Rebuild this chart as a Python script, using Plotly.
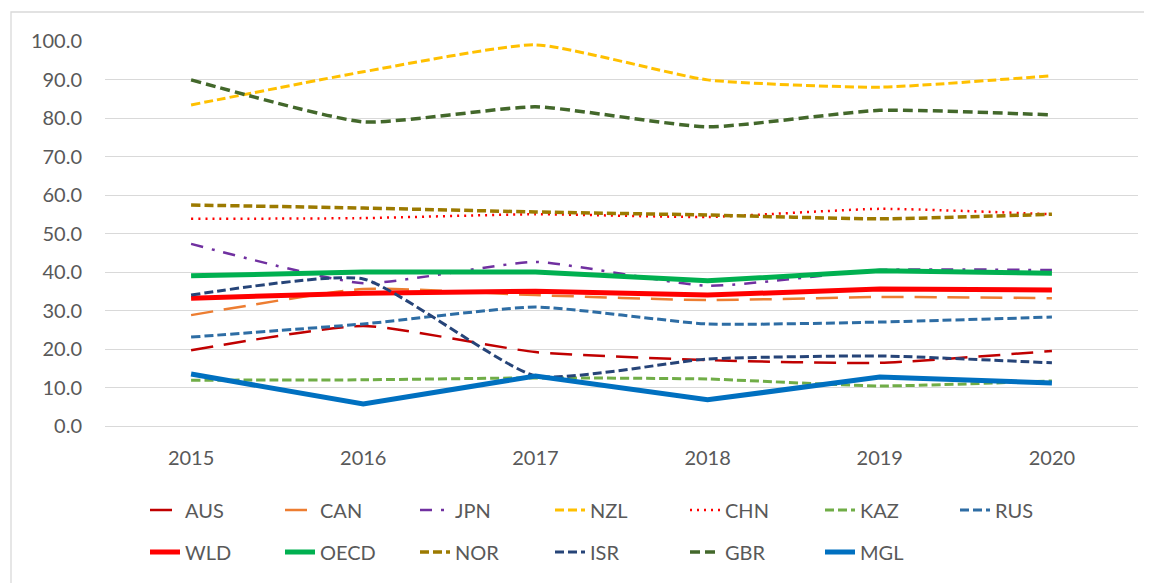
import plotly.graph_objects as go

years = ["2015", "2016", "2017", "2018", "2019", "2020"]

AUS = [19.7, 26.0, 19.2, 17.1, 16.4, 19.5]
CAN = [28.8, 35.6, 34.0, 32.7, 33.5, 33.2]
JPN = [47.3, 37.1, 42.6, 36.4, 40.5, 40.5]
NZL = [83.4, 92.0, 99.0, 89.9, 88.0, 91.0]
CHN = [53.8, 54.0, 55.0, 54.3, 56.4, 55.0]
KAZ = [11.9, 12.0, 12.5, 12.2, 10.4, 11.7]
RUS = [23.1, 26.5, 30.9, 26.5, 27.0, 28.3]
WLD = [33.2, 34.5, 35.0, 34.0, 35.6, 35.3]
OECD = [39.0, 40.0, 40.0, 37.7, 40.3, 39.7]
NOR = [57.4, 56.6, 55.6, 54.8, 53.8, 55.0]
ISR = [34.0, 38.2, 13.0, 17.4, 18.2, 16.4]
GBR = [89.9, 79.0, 82.9, 77.7, 82.0, 80.8]
MGL = [13.5, 5.7, 13.0, 6.8, 12.7, 11.2]

y_ticks = [0, 10, 20, 30, 40, 50, 60, 70, 80, 90, 100]

series = [
    ("AUS", AUS, "#C00000", 2.5, "22px,11px", "legend", True),
    ("CAN", CAN, "#ED7D31", 2.5, "22px,11px", "legend", True),
    ("JPN", JPN, "#7030A0", 2.5, "12px,9px,3px,9px", "legend", True),
    ("NZL", NZL, "#FFC000", 3, "9px,4px", "legend", True),
    ("CHN", CHN, "#FF0000", 2.5, "2px,5px", "legend", True),
    ("KAZ", KAZ, "#70AD47", 3, "9px,4px", "legend", True),
    ("RUS", RUS, "#2E6DA4", 3, "9px,4px", "legend", True),
    ("WLD", WLD, "#FF0000", 5, "solid", "legend2", False),
    ("OECD", OECD, "#00B050", 5, "solid", "legend2", False),
    ("NOR", NOR, "#9C7A00", 3.5, "9px,4px", "legend2", True),
    ("ISR", ISR, "#264478", 3, "9px,4px", "legend2", True),
    ("GBR", GBR, "#43682B", 3.5, "10px,5px", "legend2", True),
    ("MGL", MGL, "#0070C0", 5, "solid", "legend2", False),
]

# page body has an 8px default margin; work in figure coordinates
W, H = 1144, 575
OFF = 8
L, R, T, B = 105 - OFF, 1138 - OFF, 41 - OFF, 426 - OFF

fig = go.Figure()
for name, vals, color, w, dash, leg, smooth in series:
    line = dict(color=color, width=w, dash=dash)
    if smooth:
        line.update(shape="spline", smoothing=0.5)
    else:
        line.update(shape="linear")
    fig.add_trace(go.Scatter(
        x=years, y=vals, name=name, mode="lines", line=line, legend=leg,
    ))

font_family = "Lato, 'Open Sans', sans-serif"
legend_common = dict(
    orientation="h", xref="container", yref="container",
    xanchor="left", yanchor="middle",
    entrywidth=90, entrywidthmode="pixels",
    font=dict(family=font_family, size=20, color="#595959"),
    bgcolor="rgba(0,0,0,0)", traceorder="normal",
)

pw, ph = R - L, B - T
fig.update_layout(
    width=W, height=H,
    margin=dict(l=L, r=W - R, t=T, b=H - B),
    paper_bgcolor="white", plot_bgcolor="white",
    font=dict(family=font_family, size=20, color="#595959"),
    xaxis=dict(
        type="category", range=[-0.5, 5.5], showgrid=False, showline=False,
        zeroline=False, ticks="", ticklabelstandoff=18,
        tickfont=dict(size=20, color="#595959"),
    ),
    yaxis=dict(
        range=[0, 100], tickvals=y_ticks, tickformat=".1f",
        showgrid=True, gridcolor="#D9D9D9", gridwidth=1.3,
        zeroline=True, zerolinecolor="#D9D9D9", zerolinewidth=1.3,
        showline=False, ticks="", ticklabelstandoff=22,
        tickfont=dict(size=20, color="#595959"),
    ),
    legend=dict(**legend_common, x=(145 - OFF) / W, y=1 - (510 - OFF) / H),
    legend2=dict(**legend_common, x=(145 - OFF) / W, y=1 - (552 - OFF) / H),
    shapes=[dict(
        type="rect", xref="paper", yref="paper",
        x0=(11 - OFF - L) / pw, x1=(1160 - OFF - L) / pw,
        y0=-(620 - OFF - B) / ph, y1=1 + (T - (12 - OFF)) / ph,
        line=dict(color="#D9D9D9", width=1.3), fillcolor="rgba(0,0,0,0)",
        layer="below",
    )],
    showlegend=True,
)

fig.write_html("out.html")
